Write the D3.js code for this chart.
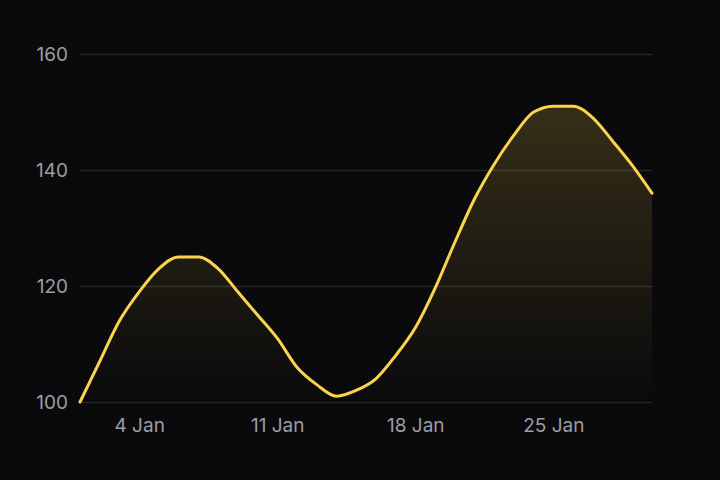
<!DOCTYPE html>
<html>
<head>
<meta charset="utf-8">
<script src="https://cdn.jsdelivr.net/npm/d3@7"></script>
<style>
  html, body { margin: 0; padding: 0; background: #0a0a0c; }
  svg { display: block; }
  .tick text { font-family: Inter, "Noto Sans", sans-serif; font-size: 19px; fill: #9d9da6; }
</style>
</head>
<body>
<div id="chart"></div>
<script>
// daily values, 1 Jan - 30 Jan
var startDay = new Date(2024, 0, 1);
var values = [100, 107, 114, 119, 123, 125, 125, 123, 119, 115,
              111, 106, 103, 101, 102, 104, 108, 112.8, 119.6, 127.5,
              135, 141, 146, 150, 151, 151, 149, 145, 140.8, 136];
var yTicks = [100, 120, 140, 160];
var xTickDays = [4, 11, 18, 25];

var svgWidth = 720;
var svgHeight = 480;
var margin = { top: 54, right: 68, bottom: 78, left: 80 };
var width = svgWidth - margin.left - margin.right;
var height = svgHeight - margin.top - margin.bottom;

var data = values.map(function(v, i) {
    return { date: d3.timeDay.offset(startDay, i), value: v };
});

var svg = d3.select("#chart").append("svg").attr("width", svgWidth).attr("height", svgHeight);
var chartGroup = svg.append("g").attr("transform", `translate(${margin.left}, ${margin.top})`);

var x = d3.scaleTime().domain(d3.extent(data, d => d.date)).range([0, width]);
var y = d3.scaleLinear().domain([100, 160]).range([height, 0]);

// gradient under the line
var defs = svg.append("defs");
var grad = defs.append("linearGradient").attr("id", "fillGrad")
    .attr("gradientUnits", "userSpaceOnUse")
    .attr("x1", 0).attr("x2", 0)
    .attr("y1", y(d3.max(values))).attr("y2", height);
grad.append("stop").attr("offset", "0%").attr("stop-color", "#fcd34d").attr("stop-opacity", 0.18);
grad.append("stop").attr("offset", "100%").attr("stop-color", "#fcd34d").attr("stop-opacity", 0);

// grid lines
chartGroup.append("g")
    .call(d3.axisLeft(y).tickValues(yTicks).tickSize(-width).tickPadding(12))
    .call(g => g.select(".domain").remove())
    .call(g => g.selectAll(".tick line").attr("stroke", "#27272b").attr("stroke-width", 1.5));

// x axis labels
chartGroup.append("g")
    .attr("transform", `translate(0, ${height})`)
    .call(d3.axisBottom(x)
        .tickValues(xTickDays.map(d => new Date(2024, 0, d)))
        .tickFormat(d3.timeFormat("%-d Jan"))
        .tickSize(0).tickPadding(17))
    .call(g => g.select(".domain").remove());

var area = d3.area()
    .x(d => x(d.date))
    .y0(height)
    .y1(d => y(d.value))
    .curve(d3.curveMonotoneX);

var line = d3.line()
    .x(d => x(d.date))
    .y(d => y(d.value))
    .curve(d3.curveMonotoneX);

chartGroup.append("path").datum(data).attr("d", area).attr("fill", "url(#fillGrad)");

chartGroup.append("path").datum(data)
    .attr("d", line)
    .attr("fill", "none")
    .attr("stroke", "#fcd34d")
    .attr("stroke-width", 3)
    .attr("stroke-linejoin", "round")
    .attr("stroke-linecap", "round");
</script>
</body>
</html>
